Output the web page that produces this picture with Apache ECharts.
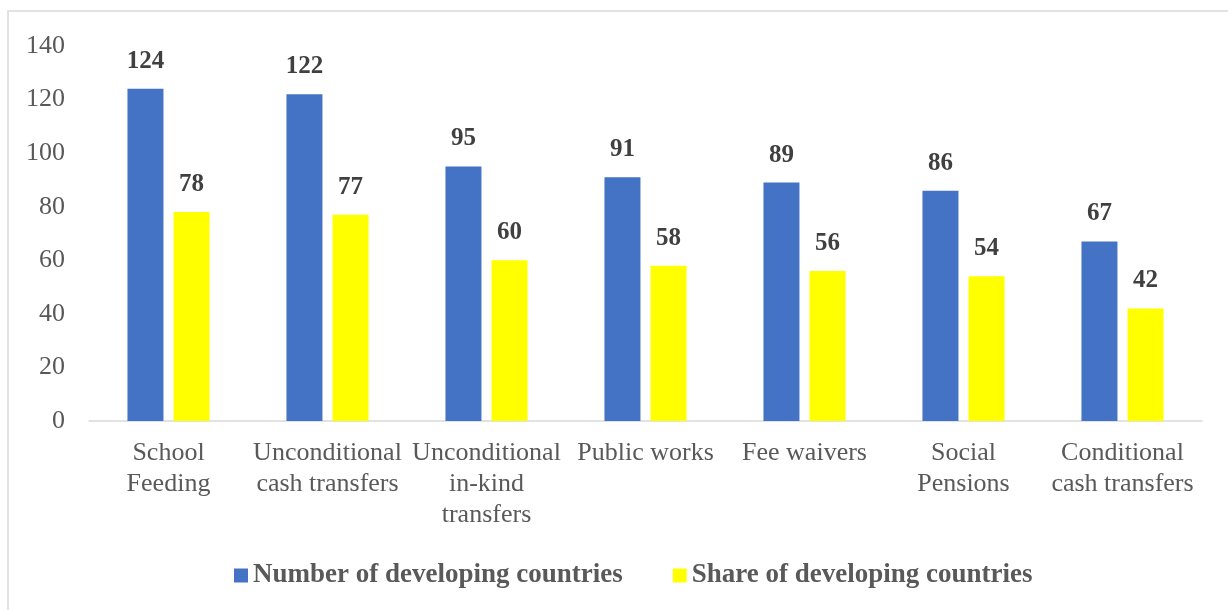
<!DOCTYPE html>
<html><head><meta charset="utf-8">
<script src="https://cdn.jsdelivr.net/npm/echarts@6/dist/echarts.min.js"></script>
<style>html,body{margin:0;padding:0;background:#fff}#c{width:1228px;height:610px}</style>
</head><body><div id="c"></div>
<script>
const categories = ['School\nFeeding','Unconditional\ncash transfers','Unconditional\nin-kind\ntransfers','Public works','Fee waivers','Social\nPensions','Conditional\ncash transfers'];
const numberOfCountries = [124,122,95,91,89,86,67];
const shareOfCountries = [78,77,60,58,56,54,42];
const yTicks = {min:0,max:140,interval:20};
const F = '"Liberation Serif","Times New Roman",serif';
const chart = echarts.init(document.getElementById('c'));
chart.setOption({
  backgroundColor:'#fff',
  animation:false,
  graphic:[{type:'rect',shape:{x:8,y:11,width:1400,height:800},style:{fill:'none',stroke:'#d9d9d9',lineWidth:1.5},silent:true}],
  grid:{left:89,right:26,top:46,bottom:189,containLabel:false},
  legend:{bottom:16,left:229,itemWidth:14,itemHeight:14,itemGap:50,icon:'rect',
    textStyle:{fontFamily:F,fontSize:27,fontWeight:'bold',color:'#595959'},
    data:['Number of developing countries','Share of developing countries']},
  xAxis:{type:'category',data:categories,
    axisLine:{lineStyle:{color:'#d9d9d9',width:1.5}},axisTick:{show:false},
    axisLabel:{fontFamily:F,fontSize:26,color:'#595959',lineHeight:31,margin:17,interval:0}},
  yAxis:{type:'value',min:yTicks.min,max:yTicks.max,interval:yTicks.interval,
    splitLine:{show:false},axisLine:{show:false},axisTick:{show:false},
    axisLabel:{fontFamily:F,fontSize:26,color:'#595959',margin:24}},
  series:[
    {name:'Number of developing countries',type:'bar',data:numberOfCountries,barWidth:36,barGap:'28%',
     itemStyle:{color:'#4472c4'},
     label:{show:true,position:'top',distance:15,fontFamily:F,fontSize:25,fontWeight:'bold',color:'#404040'}},
    {name:'Share of developing countries',type:'bar',data:shareOfCountries,barWidth:36,
     itemStyle:{color:'#ffff00'},
     label:{show:true,position:'top',distance:15,fontFamily:F,fontSize:25,fontWeight:'bold',color:'#404040'}}
  ]
});
</script></body></html>
